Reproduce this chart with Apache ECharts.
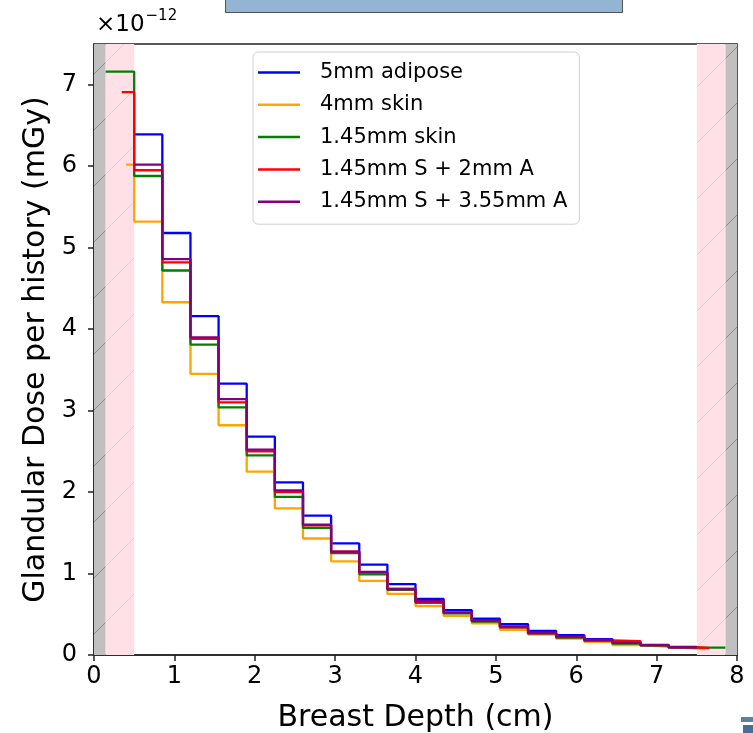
<!DOCTYPE html>
<html>
<head>
<meta charset="utf-8">
<script src="https://cdn.jsdelivr.net/npm/echarts@6/dist/echarts.min.js"></script>
<style>
html,body{margin:0;padding:0;background:#fff;}
#chart{width:753px;height:733px;}
</style>
</head>
<body>
<div id="chart"></div>
<script>
// Values are in units of 1e-12 mGy (axis offset label ×10^-12)
const seriesNames = ['5mm adipose', '4mm skin', '1.45mm skin', '1.45mm S + 2mm A', '1.45mm S + 3.55mm A'];
const seriesColors = ['#0000ff', '#ffa500', '#008000', '#ff0000', '#800080'];

// common glandular bin edges (cm)
const commonEdges = [0.5, 0.85, 1.2, 1.55, 1.9, 2.25, 2.6, 2.95, 3.3, 3.65, 4.0, 4.35, 4.7, 5.05, 5.4, 5.75, 6.1, 6.45, 6.8, 7.15, 7.5];

// per-series edges (skin / adipose layers change where glandular tissue starts and ends)
const adiposeEdges = commonEdges;
const skin4Edges = [0.4].concat(commonEdges, [7.6]);
const skin145Edges = [0.145].concat(commonEdges, [7.855]);
const s2aEdges = [0.345].concat(commonEdges, [7.655]);
const s355aEdges = commonEdges;

const adiposeValues = [6.39, 5.18, 4.16, 3.33, 2.68, 2.12, 1.71, 1.37, 1.11, 0.87, 0.69, 0.55, 0.445, 0.38, 0.295, 0.245, 0.195, 0.155, 0.125, 0.10];
const skin4Values = [6.02, 5.32, 4.33, 3.45, 2.82, 2.25, 1.80, 1.43, 1.15, 0.91, 0.75, 0.60, 0.48, 0.39, 0.31, 0.25, 0.20, 0.16, 0.12, 0.10, 0.08, 0.07];
const skin145Values = [7.16, 5.88, 4.72, 3.81, 3.04, 2.45, 1.94, 1.56, 1.25, 0.99, 0.80, 0.64, 0.51, 0.41, 0.34, 0.265, 0.215, 0.175, 0.14, 0.115, 0.09, 0.09];
const s2aValues = [6.91, 5.95, 4.82, 3.88, 3.10, 2.50, 2.00, 1.59, 1.27, 1.01, 0.81, 0.65, 0.52, 0.42, 0.34, 0.27, 0.22, 0.18, 0.17, 0.12, 0.095, 0.085];
const s355aValues = [6.02, 4.86, 3.90, 3.14, 2.52, 2.02, 1.60, 1.27, 1.02, 0.81, 0.66, 0.52, 0.42, 0.35, 0.27, 0.225, 0.185, 0.148, 0.12, 0.095];

const allEdges = [adiposeEdges, skin4Edges, skin145Edges, s2aEdges, s355aEdges];
const allValues = [adiposeValues, skin4Values, skin145Values, s2aValues, s355aValues];

// shaded regions (cm)
const grayRegions = [[0, 0.145], [7.855, 8]];
const pinkRegions = [[0.145, 0.5], [7.5, 7.855]];

const xTicks = [0, 1, 2, 3, 4, 5, 6, 7, 8];
const yTicks = [0, 1, 2, 3, 4, 5, 6, 7];

function hatch(bg, line) {
  const s = 56;
  const c = document.createElement('canvas');
  c.width = s; c.height = s;
  const g = c.getContext('2d');
  g.fillStyle = bg; g.fillRect(0, 0, s, s);
  g.strokeStyle = line; g.lineWidth = 1;
  g.beginPath();
  g.moveTo(-4, s + 4); g.lineTo(s + 4, -4);
  g.moveTo(-8, 8); g.lineTo(8, -8);
  g.moveTo(s - 8, s + 8); g.lineTo(s + 8, s - 8);
  g.stroke();
  return c;
}
const grayPattern = { image: hatch('#c0c0c0', '#8a8a8a'), repeat: 'repeat' };
const pinkPattern = { image: hatch('#ffe0e6', '#ffc4cf'), repeat: 'repeat' };

function stepData(edges, vals) {
  const d = [];
  for (let i = 0; i < vals.length; i++) d.push([edges[i], vals[i]]);
  d.push([edges[vals.length], vals[vals.length - 1]]);
  return d;
}

const FONT = 'DejaVu Sans';
const chart = echarts.init(document.getElementById('chart'), null, { renderer: 'canvas' });

const series = [{
  name: '_regions', type: 'line', data: [], silent: true, z: 1,
  markArea: {
    silent: true,
    data: grayRegions.map(r => [{ xAxis: r[0], itemStyle: { color: grayPattern } }, { xAxis: r[1] }])
      .concat(pinkRegions.map(r => [{ xAxis: r[0], itemStyle: { color: pinkPattern } }, { xAxis: r[1] }]))
  }
}];
seriesNames.forEach((n, i) => {
  series.push({
    name: n, type: 'line', step: 'end', showSymbol: false, symbol: 'none',
    data: stepData(allEdges[i], allValues[i]),
    lineStyle: { color: seriesColors[i], width: 2.3 },
    itemStyle: { color: seriesColors[i] },
    z: 2 + i, animation: false
  });
});

chart.setOption({
  animation: false,
  backgroundColor: '#ffffff',
  grid: { left: 94, right: 16, top: 44, bottom: 78, outerBoundsMode: 'none', containLabel: false, show: true, borderColor: '#222', borderWidth: 1.5, backgroundColor: 'transparent' },
  xAxis: {
    type: 'value', min: 0, max: 8, interval: 1,
    name: 'Breast Depth (cm)', nameLocation: 'middle', nameGap: 48,
    nameTextStyle: { fontFamily: FONT, fontSize: 30, color: '#000' },
    axisLine: { show: true, onZero: false, lineStyle: { color: '#222', width: 1.5 } },
    axisTick: { show: true, length: 6, lineStyle: { color: '#222', width: 1.5 } },
    axisLabel: { fontFamily: FONT, fontSize: 24, color: '#000', margin: 10 },
    splitLine: { show: false }
  },
  yAxis: {
    type: 'value', min: 0, max: 7.5, interval: 1,
    name: 'Glandular Dose per history (mGy)', nameLocation: 'middle', nameGap: 42, nameRotate: 90,
    nameTextStyle: { fontFamily: FONT, fontSize: 30, color: '#000' },
    axisLine: { show: true, onZero: false, lineStyle: { color: '#222', width: 1.5 } },
    axisTick: { show: true, length: 6, customValues: yTicks, lineStyle: { color: '#222', width: 1.5 } },
    axisLabel: { fontFamily: FONT, fontSize: 24, color: '#000', margin: 17, customValues: yTicks },
    splitLine: { show: false }
  },
  legend: {
    data: seriesNames,
    orient: 'vertical', left: 253, top: 52,
    backgroundColor: 'rgba(255,255,255,0.8)',
    borderColor: '#d0d0d0', borderWidth: 1, borderRadius: 5,
    padding: [10, 12, 12, 5],
    icon: 'rect', itemWidth: 42, itemHeight: 2.5, itemGap: 11.3,
    textStyle: { fontFamily: FONT, fontSize: 21, lineHeight: 21, color: '#000', padding: [0, 0, 0, 15] }
  },
  graphic: [
    { type: 'rect', left: 225, top: -2, shape: { width: 397, height: 14 }, style: { fill: '#94b4d4', stroke: '#555', lineWidth: 1 }, silent: true },
    {
      type: 'text', left: 96, top: 9, silent: true,
      style: {
        text: '{a|×10}{b|−12}',
        rich: {
          a: { fontFamily: FONT, fontSize: 23, fill: '#000', verticalAlign: 'bottom', lineHeight: 28 },
          b: { fontFamily: FONT, fontSize: 15, fill: '#000', verticalAlign: 'top', lineHeight: 28, padding: [0, 0, 12, 1] }
        }
      }
    },
    { type: 'rect', left: 741, top: 717, shape: { width: 12, height: 5 }, style: { fill: '#5d7fa3' }, silent: true },
    { type: 'rect', left: 743, top: 725, shape: { width: 10, height: 8 }, style: { fill: '#4c6e94' }, silent: true }
  ],
  series: series
});
</script>
</body>
</html>
